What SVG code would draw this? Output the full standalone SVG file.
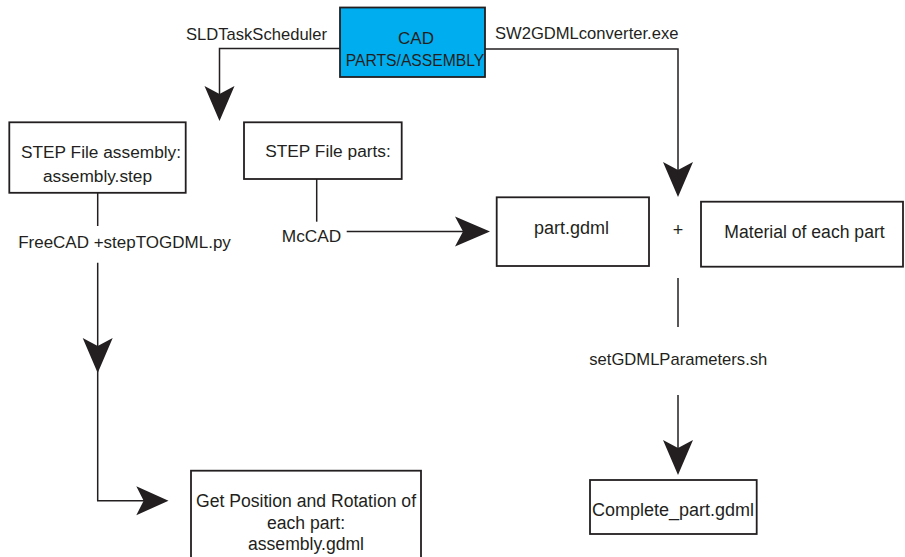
<svg xmlns="http://www.w3.org/2000/svg" xmlns:xlink="http://www.w3.org/1999/xlink" width="905" height="557" viewBox="0 0 905 557">
<style>
text{font-family:"Liberation Sans",Arial,sans-serif;fill:#231f20;text-anchor:middle;font-size:16.6px}
.box{fill:#fff;stroke:#231f20;stroke-width:1.8}
.cad{fill:#00aeef;stroke:#231f20;stroke-width:1.8}
.ln{fill:none;stroke:#231f20;stroke-width:1.5}
.ah{fill:#231f20}
.b17{font-size:17.3px}
.b18{font-size:18px}
</style>
<defs>
<path id="arrow" d="M0,0 L-35,-15 L-27,0 L-35,15 Z"/>
</defs>
<rect width="905" height="557" fill="#fff"/>
<g id="connectors">
<path class="ln" d="M340,48.5 H219.5 V100"/>
<path class="ln" d="M485,49 H678 V175"/>
<path class="ln" d="M97.7,193 V226"/>
<path class="ln" d="M97.7,262.7 V500.7 H150"/>
<path class="ln" d="M316.7,179 V221.7"/>
<path class="ln" d="M346.7,231.5 H465"/>
<path class="ln" d="M678,278 V327"/>
<path class="ln" d="M678,395 V450"/>
<use xlink:href="#arrow" class="ah" transform="translate(219.5,121) rotate(90)"/>
<use xlink:href="#arrow" class="ah" transform="translate(678,197) rotate(90)"/>
<use xlink:href="#arrow" class="ah" transform="translate(490,231.5)"/>
<use xlink:href="#arrow" class="ah" transform="translate(97.7,373) rotate(90)"/>
<use xlink:href="#arrow" class="ah" transform="translate(168.5,500.7) scale(0.92,0.97)"/>
<use xlink:href="#arrow" class="ah" transform="translate(678,475) rotate(90)"/>
<text x="256.5" y="40">SLDTaskScheduler</text>
<text x="586.7" y="38.5">SW2GDMLconverter.exe</text>
<text x="124.5" y="248" class="b17" style="font-size:17px">FreeCAD +stepTOGDML.py</text>
<text x="311.5" y="242" class="b17">McCAD</text>
<text x="678" y="236" style="font-size:18px">+</text>
<text x="678.3" y="365">setGDMLParameters.sh</text>
</g>
<g id="cad">
<rect class="cad" x="340" y="7.5" width="145" height="69.5"/>
<text x="416" y="44.3" style="font-size:17px">CAD</text>
<text x="415" y="65.7" style="font-size:15.7px">PARTS/ASSEMBLY</text>
</g>
<g id="step-assembly">
<rect class="box" x="9.3" y="122.3" width="176.4" height="70.5"/>
<text x="101" y="158" class="b17">STEP File assembly:</text>
<text x="97.5" y="181.7" class="b17">assembly.step</text>
</g>
<g id="step-parts">
<rect class="box" x="244" y="122.3" width="157.7" height="56.7"/>
<text x="328" y="157" class="b17">STEP File parts:</text>
</g>
<g id="part-gdml">
<rect class="box" x="496.7" y="197.3" width="152.3" height="68.7"/>
<text x="571.5" y="234" class="b18">part.gdml</text>
</g>
<g id="material">
<rect class="box" x="701" y="201.7" width="202" height="65"/>
<text x="804.5" y="238" style="font-size:17.6px">Material of each part</text>
</g>
<g id="complete-part">
<rect class="box" x="590" y="480" width="166.7" height="54"/>
<text x="673" y="516" class="b18">Complete_part.gdml</text>
</g>
<g id="position-rotation">
<rect class="box" x="191" y="470.7" width="230" height="95"/>
<text x="306" y="506.7" style="font-size:17.6px">Get Position and Rotation of</text>
<text x="306" y="529.3" style="font-size:17.6px">each part:</text>
<text x="306" y="550" style="font-size:17.6px">assembly.gdml</text>
</g>
</svg>
